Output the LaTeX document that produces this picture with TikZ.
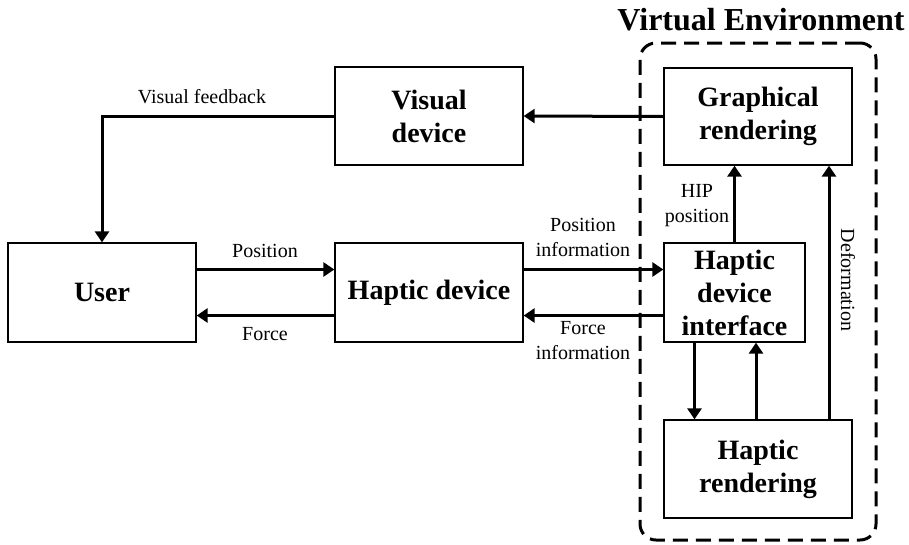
\documentclass[tikz,border=0pt]{standalone}
\usepackage{fontspec}
\setmainfont{Liberation Serif}
\usetikzlibrary{arrows.meta}
\begin{document}
\begin{tikzpicture}[x=1pt,y=-1pt,
  box/.style={draw,line width=1.3pt,align=center,inner sep=0pt,
    font=\fontsize{28}{33}\selectfont\bfseries},
  conn/.style={line width=3pt,-{Triangle[length=11pt,width=14pt]}},
  lab/.style={align=center,inner sep=0pt,font=\fontsize{20}{25}\selectfont},
  vebox/.style={draw,line width=3pt,dash pattern=on 15pt off 8pt,rounded corners=16pt,inner sep=0pt}]
\useasboundingbox (0,0) rectangle (909,544);
\node[vebox,minimum width=236pt,minimum height=497pt] (ve) at (758,291.5) {};
\node[inner sep=0pt,font=\fontsize{32}{36}\selectfont\bfseries] (title) at (761,20) {Virtual Environment};
\node[box,minimum width=188pt,minimum height=99pt] (user) at (102,292.5) {User};
\node[box,minimum width=188pt,minimum height=99pt] (hd) at (429,292.5) {Haptic device};
\node[box,minimum width=188pt,minimum height=98pt] (vd) at (429,116) {Visual\\device};
\node[box,minimum width=188pt,minimum height=97pt] (gr) at (758,116.5) {Graphical\\rendering};
\node[box,minimum width=141pt,minimum height=99pt] (hdi) at (734.5,292.5) {Haptic\\device\\interface};
\node[box,minimum width=188pt,minimum height=98pt] (hr) at (758,469) {Haptic\\rendering};
\draw[conn] (gr.west) -- (vd.east);
\draw[conn] (vd.west) -| (user.north);
\draw[conn] ([yshift=23pt]user.east) -- ([yshift=23pt]hd.west);
\draw[conn] ([yshift=-23pt]hd.west) -- ([yshift=-23pt]user.east);
\draw[conn] ([yshift=23pt]hd.east) -- ([yshift=23pt]hdi.west);
\draw[conn] ([yshift=-23pt]hdi.west) -- ([yshift=-23pt]hd.east);
\draw[conn] (hdi.north) -- (hdi.north |- gr.south);
\draw[conn] ([xshift=71pt]hr.north) -- ([xshift=71pt]hr.north |- gr.south);
\draw[conn] ([xshift=-40pt]hdi.south) -- ([xshift=-40pt]hdi.south |- hr.north);
\draw[conn] ([xshift=21.5pt]hdi.south |- hr.north) -- ([xshift=21.5pt]hdi.south);
\node[lab] (lvf) at (202,97) {Visual feedback};
\node[lab] (lpos) at (265,251) {Position};
\node[lab] (lforce) at (265,334) {Force};
\node[lab] (lpi) at (583,237.5) {Position\\information};
\node[lab] (lfi) at (583,341) {Force\\information};
\node[lab] (lhip) at (697,206) {HIP\\position};
\node[lab,rotate=-90] (ldef) at (848,280) {Deformation};
\end{tikzpicture}
\end{document}
